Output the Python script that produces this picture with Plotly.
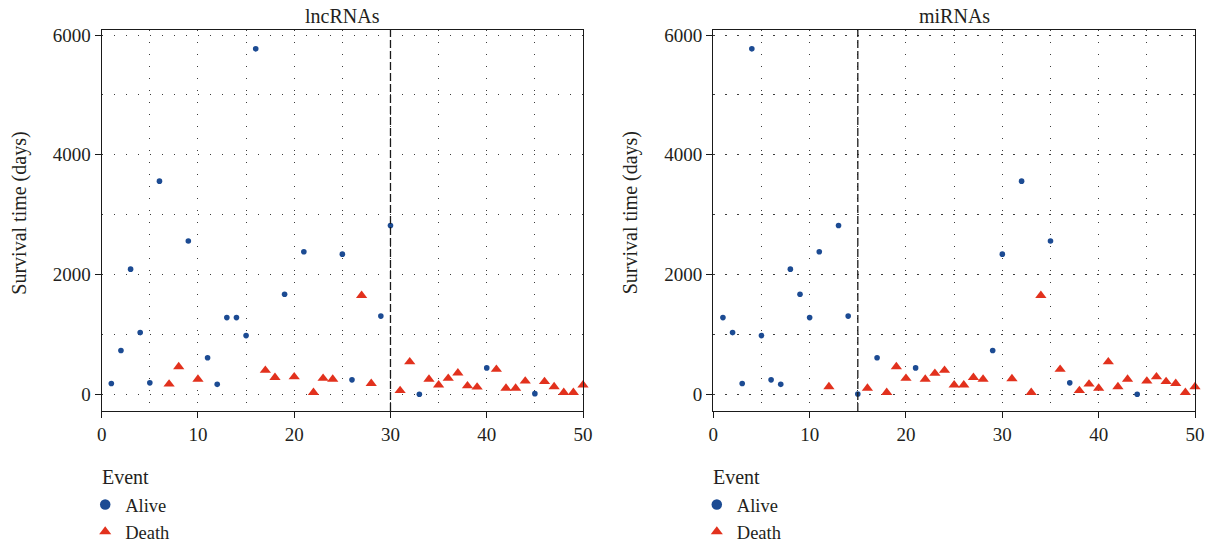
import plotly.graph_objects as go

W, H = 1215, 548

# ---------------- data ----------------
patients = list(range(1, 51))

lnc_event = ["Alive", "Alive", "Alive", "Alive", "Alive", "Alive", "Death", "Death", "Alive", "Death",
             "Alive", "Alive", "Alive", "Alive", "Alive", "Alive", "Death", "Death", "Alive", "Death",
             "Alive", "Death", "Death", "Death", "Alive", "Alive", "Death", "Death", "Alive", "Alive",
             "Death", "Death", "Alive", "Death", "Death", "Death", "Death", "Death", "Death", "Alive",
             "Death", "Death", "Death", "Death", "Alive", "Death", "Death", "Death", "Death", "Death"]
lnc_time = [180, 730, 2090, 1030, 190, 3560, 170, 460, 2560, 250,
            610, 165, 1280, 1280, 980, 5770, 400, 280, 1670, 290,
            2380, 30, 265, 250, 2340, 240, 1650, 180, 1305, 2820,
            60, 540, 0, 250, 155, 265, 355, 140, 120, 440,
            415, 100, 100, 220, 10, 210, 125, 30, 30, 155]

mi_event = ["Alive", "Alive", "Alive", "Alive", "Alive", "Alive", "Alive", "Alive", "Alive", "Alive",
            "Alive", "Death", "Alive", "Alive", "Alive", "Death", "Alive", "Death", "Death", "Death",
            "Alive", "Death", "Death", "Death", "Death", "Death", "Death", "Death", "Alive", "Alive",
            "Death", "Alive", "Death", "Death", "Alive", "Death", "Alive", "Death", "Death", "Death",
            "Death", "Death", "Death", "Alive", "Death", "Death", "Death", "Death", "Death", "Death"]
mi_time = [1280, 1030, 180, 5770, 980, 240, 165, 2090, 1670, 1280,
           2380, 125, 2820, 1305, 5, 100, 610, 30, 460, 265,
           440, 250, 350, 400, 155, 155, 280, 250, 730, 2340,
           260, 3560, 30, 1650, 2560, 415, 190, 60, 170, 100,
           540, 125, 250, 0, 220, 290, 210, 180, 30, 125]

panel_titles = ["lncRNAs", "miRNAs"]
cutoffs = [30, 15]
x_ticks = [0, 10, 20, 30, 40, 50]
y_ticks = [0, 2000, 4000, 6000]
y_title = "Survival time (days)"
legend_title = "Event"

# ---------------- style ----------------
FONT = "Liberation Serif"
TXT = "#231f20"
BLUE = "#1c4b93"
RED = "#e2311d"
GRID = "#3c3c3c"
GDASH = "1.3px,10.7px"

# plot-area pixel geometry (paper == whole figure, margins are zero)
top_px, bot_px = 30, 411
panels_px = [(101.7, 583.0), (713.3, 1195.0)]


def px_x(p):
    return p / W


def px_y(p):
    return 1 - p / H


fig = go.Figure()

datasets = [(lnc_event, lnc_time), (mi_event, mi_time)]
for i, (ev, tm) in enumerate(datasets):
    xa = "x" if i == 0 else "x2"
    ya = "y" if i == 0 else "y2"
    lg = "legend" if i == 0 else "legend2"
    for name, sym, col, sz, lsz in [("Alive", "circle", BLUE, 5.6, 10.5),
                                    ("Death", "triangle-up", RED, 9.8, 10.5)]:
        xs = [p for p, e in zip(patients, ev) if e == name]
        ys = [t for t, e in zip(tm, ev) if e == name]
        fig.add_trace(go.Scatter(
            x=xs, y=ys, mode="markers", xaxis=xa, yaxis=ya,
            marker=dict(symbol=sym, color=col, size=sz, line=dict(width=0)),
            showlegend=False, cliponaxis=False, name=name))
        # legend entry (larger symbol, like the reference)
        fig.add_trace(go.Scatter(
            x=[None], y=[None], mode="markers", xaxis=xa, yaxis=ya,
            marker=dict(symbol=sym, color=col, size=lsz, line=dict(width=0)),
            showlegend=True, legend=lg, name=name))

axis_common = dict(
    showline=True, linecolor="#1a1a1a", linewidth=1.3, mirror=True,
    ticks="outside", ticklen=6, tickwidth=1.3, tickcolor="#1a1a1a",
    showgrid=True, gridcolor=GRID, gridwidth=1.3, griddash=GDASH,
    zeroline=False, tickfont=dict(family=FONT, size=19, color=TXT),
    automargin=False,
)

for i, (x0, x1) in enumerate(panels_px):
    sfx = "" if i == 0 else "2"
    fig.update_layout(**{
        "xaxis" + sfx: dict(
            axis_common, domain=[px_x(x0), px_x(x1)], range=[0, 50],
            tickmode="array", tickvals=x_ticks,
            minor=dict(dtick=5, tick0=0, showgrid=True, gridcolor=GRID, gridwidth=1.3,
                       griddash=GDASH, ticks=""),
            anchor="y" + sfx),
        "yaxis" + sfx: dict(
            axis_common, domain=[px_y(bot_px), px_y(top_px)], range=[-280, 6085],
            tickmode="array", tickvals=y_ticks,
            minor=dict(dtick=1000, tick0=0, showgrid=True, gridcolor=GRID, gridwidth=1.3,
                       griddash=GDASH, ticks=""),
            anchor="x" + sfx),
    })
    # dashed cutoff line
    fig.add_shape(type="line", xref="x" + sfx, yref=("y" + sfx) + " domain",
                  x0=cutoffs[i], x1=cutoffs[i], y0=0, y1=1,
                  line=dict(color="#1a1a1a", width=1.3, dash="8px,3px"))
    # panel title
    fig.add_annotation(text=panel_titles[i], xref="paper", yref="paper",
                       x=px_x((x0 + x1) / 2), y=px_y(15.5),
                       xanchor="center", yanchor="middle", showarrow=False,
                       font=dict(family=FONT, size=20, color=TXT))
    # y axis title
    fig.add_annotation(text=y_title, xref="paper", yref="paper",
                       x=px_x(x0 - 82), y=px_y(213), textangle=-90,
                       xanchor="center", yanchor="middle", showarrow=False,
                       font=dict(family=FONT, size=20, color=TXT))
    # legend title
    fig.add_annotation(text=legend_title, xref="paper", yref="paper",
                       x=px_x(x0 - 2), y=px_y(476.5),
                       xanchor="left", yanchor="middle", showarrow=False,
                       font=dict(family=FONT, size=20, color=TXT))
    leg = dict(xref="paper", yref="paper", x=px_x(x0 - 16.5), y=-3 / H,
               xanchor="left", yanchor="bottom", orientation="v",
               bgcolor="rgba(0,0,0,0)", borderwidth=0, itemwidth=30,
               font=dict(family=FONT, size=18.5, color=TXT), tracegroupgap=0)
    fig.update_layout(**{"legend" + sfx: leg})

fig.update_layout(
    width=W, height=H, autosize=False,
    margin=dict(l=0, r=0, t=0, b=0, pad=0, autoexpand=False),
    paper_bgcolor="white", plot_bgcolor="white",
    font=dict(family=FONT, color=TXT),
)

fig.write_html("out.html")
